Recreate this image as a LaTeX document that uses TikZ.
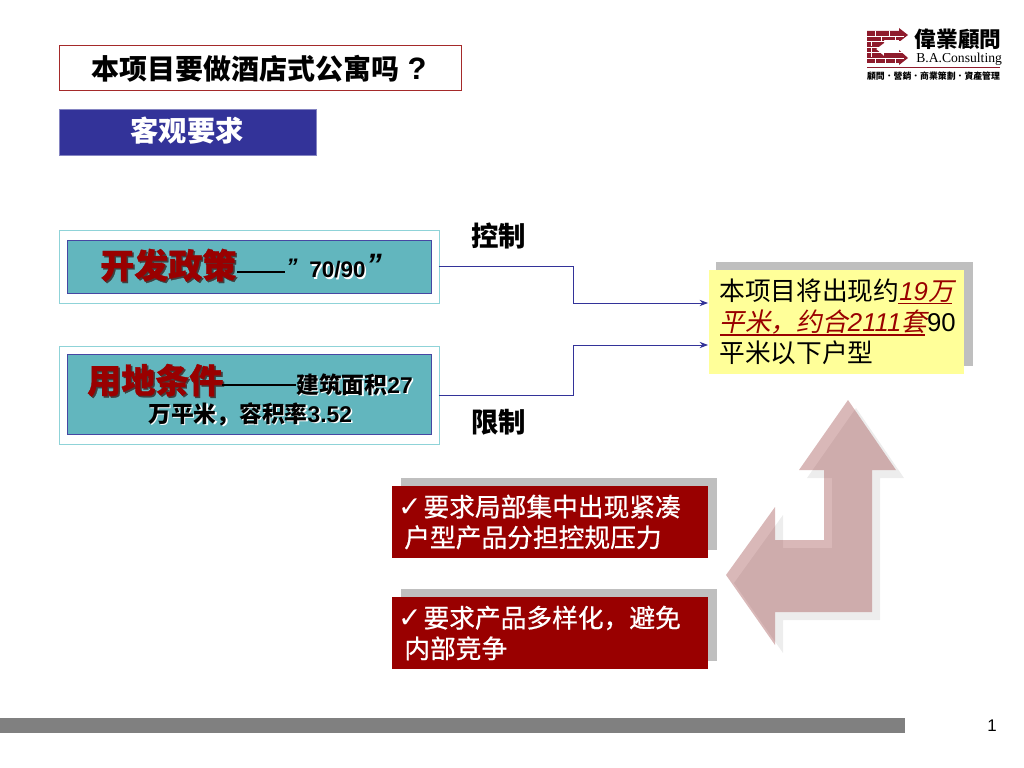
\documentclass[tikz,border=0pt]{standalone}
\usepackage{fontspec}
\usetikzlibrary{arrows.meta}
\setmainfont{Noto Sans CJK SC}
\newfontfamily\arial{Liberation Sans}
\newfontfamily\lserif{Liberation Serif}
\newfontfamily\cjktc{Noto Sans CJK TC}
\newfontfamily\cjkit[FakeSlant=0.2]{Noto Sans CJK SC}
\newfontfamily\cjkmed[FakeBold=0.6]{Noto Sans CJK SC}
\newfontfamily\cjkheavy[BoldFeatures={FakeBold=1}]{Noto Sans CJK SC}
\newfontfamily\dejavu{DejaVu Sans}
\definecolor{titlered}{HTML}{A52A2A}
\definecolor{navy}{HTML}{333399}
\definecolor{tealfill}{HTML}{62B6BE}
\definecolor{tealline}{HTML}{8FD3D8}
\definecolor{darkred}{HTML}{990000}
\definecolor{softyellow}{HTML}{FFFF99}
\definecolor{softgray}{HTML}{BFBFBF}
\definecolor{brick}{HTML}{8E1B2C}
\newcommand{\shadowed}[2]{\leavevmode\rlap{\kern1.1pt\raisebox{-1.1pt}{\color{#1}#2}}#2}
\tikzset{
	panel/.style={anchor=north west, inner sep=0pt, outer sep=0pt},
	outerbox/.style={panel, draw=tealline, line width=0.6pt, fill=white, minimum width=270.2pt},
	innerbox/.style={panel, draw=navy!90, line width=0.5pt, fill=tealfill, minimum width=258.8pt},
	shadowbox/.style={panel, fill=softgray},
	redbox/.style={panel, fill=darkred, minimum width=224.7pt, minimum height=51.2pt},
	redtext/.style={anchor=west, inner sep=0pt, text=white, align=left, font=\fontsize{18.3}{21.8}\selectfont\cjkmed},
	link/.style={-{Stealth[length=6pt,width=4.5pt]}, draw=navy, line width=0.6pt},
	plain/.style={inner sep=0pt}
}
\begin{document}
\begin{tikzpicture}[x=0.025cm, y=-0.025cm]
	\useasboundingbox (0,0) rectangle (1024,768);

	% Titolo
	\node[panel, draw=titlered, line width=0.7pt, minimum width=286.5pt, minimum height=32.7pt] (title) at (59,45) {};
	\node[plain, anchor=west, font=\fontsize{19.9}{24}\selectfont\bfseries] (titletext) at (91,68.5) {本项目要做酒店式公寓吗{\arial\fontsize{22}{24}\selectfont\ ?}};
	\node[panel, fill=navy, draw=navy!60, line width=0.4pt, minimum width=182.7pt, minimum height=32.7pt] (need) at (59,109) {};
	\node[plain, text=white, font=\fontsize{20.1}{24}\selectfont\bfseries] (needtext) at (187,131) {客观要求};

	% Riquadri a sinistra
	\node[outerbox, minimum height=51.9pt] (policy) at (59,230) {};
	\node[innerbox, minimum height=37.7pt] (policyin) at (67,240) {};
	\node[outerbox, minimum height=69.7pt] (land) at (59,346) {};
	\node[innerbox, minimum height=56.9pt] (landin) at (67,354) {};

	% Testi del primo riquadro
	\node[plain, anchor=west, text=darkred, font=\fontsize{24.2}{28}\selectfont\cjkheavy\bfseries] (policyhead) at (100,266) {\shadowed{black!75}{开发政策}};
	\node[plain, anchor=west] (policydash) at (237,272) {\rule{34pt}{1.2pt}};
	\node[plain, anchor=west, font=\arial\fontsize{16}{18}\selectfont\bfseries\itshape] (policyqa) at (286,267) {”};
	\node[plain, anchor=west, font=\arial\fontsize{16}{18}\selectfont\bfseries] (policynum) at (309,270.5) {\shadowed{white}{70/90}};
	\node[plain, anchor=west, font=\arial\fontsize{22}{28}\selectfont\bfseries\itshape] (policyqb) at (366,265) {”};

	% Testi del secondo riquadro
	\node[plain, anchor=west, text=darkred, font=\fontsize{24.2}{28}\selectfont\cjkheavy\bfseries] (landhead) at (87,381) {\shadowed{black!75}{用地条件}};
	\node[plain, anchor=west] (landdash) at (222,385) {\rule{52.5pt}{1.6pt}};
	\node[plain, anchor=west, font=\fontsize{16.2}{20}\selectfont\bfseries] (landa) at (296,385) {\shadowed{white}{建筑面积{\arial 27}}};
	\node[plain, anchor=west, font=\fontsize{16.2}{20}\selectfont\bfseries] (landb) at (148,415) {\shadowed{white}{万平米，容积率{\arial 3.52}}};

	% Etichette dei collegamenti
	\node[plain, font=\fontsize{19.5}{24}\selectfont\bfseries] (control) at (498.5,236) {控制};
	\node[plain, font=\fontsize{19.5}{24}\selectfont\bfseries] (limit) at (498.5,422) {限制};

	% Riquadro giallo
	\node[shadowbox, minimum width=182.7pt, minimum height=74pt] (resultsh) at (716,262) {};
	\node[panel, fill=softyellow, minimum width=181.3pt, minimum height=74pt] (result) at (709,270) {};
	\node[plain, anchor=west, align=left, font=\fontsize{18.3}{22}\selectfont] (resulttext) at (719,322)
		{本项目将出现约{\color{darkred}\cjkit{\arial\itshape 19}万}\\
		{\color{darkred}\cjkit 平米，约合{\arial\itshape 2111}套}{\arial 90}\\
		平米以下户型};
	\draw[darkred, line width=0.8pt] (898,303.5) -- (952,303.5);
	\draw[darkred, line width=0.8pt] (720,335) -- (925,335);

	% Collegamenti
	\coordinate (bendA) at (573,303);
	\coordinate (bendB) at (573,345);
	\coordinate (inA) at (708,303);
	\coordinate (inB) at (708,345);
	\draw[link] (policy.east) -| (bendA) -- (inA);
	\draw[link] (land.east) -| (bendB) -- (inB);

	% Riquadri rossi
	\node[shadowbox, minimum width=224.7pt, minimum height=51.2pt] (reqash) at (401,478) {};
	\node[redbox] (reqa) at (392,486) {};
	\node[redtext] (reqatext) at (404,522) {\hspace*{-4.3pt}{\dejavu\fontsize{20}{20}\selectfont ✓}\kern1.2pt 要求局部集中出现紧凑\\户型产品分担控规压力};
	\node[shadowbox, minimum width=224.7pt, minimum height=51.2pt] (reqbsh) at (401,589) {};
	\node[redbox] (reqb) at (392,597) {};
	\node[redtext] (reqbtext) at (404,633) {\hspace*{-4.3pt}{\dejavu\fontsize{20}{20}\selectfont ✓}\kern1.2pt 要求产品多样化，避免\\内部竞争};

	% Freccia a due punte
	\fill[black!7] (856,408) -- (904,478) -- (880,478) -- (880,620) -- (783,620) -- (783,653) -- (734,583)
		-- (783,515) -- (783,548) -- (832,548) -- (832,478) -- (807,478) -- cycle;
	\fill[fill={rgb,255:red,153;green,63;blue,63}, fill opacity=0.37] (848,400) -- (896,470) -- (872,470) -- (872,612) -- (775,612) -- (775,645) -- (726,575)
		-- (775,507) -- (775,540) -- (824,540) -- (824,470) -- (799,470) -- cycle;

	% Logo
	\fill[brick] (867,31) -- (899,31) -- (899,28) -- (908,35) -- (899,42) -- (899,40) -- (884,40) -- (884,43) -- (876,49)
		-- (884,56) -- (884,53) -- (899,53) -- (899,50) -- (908,58) -- (899,65) -- (899,63) -- (867,63) -- cycle;
	\foreach \y in {36,41,47,52,58}
		\draw[white, line width=0.35pt] (867,\y) -- (904,\y);
	\foreach \x/\y in {875/31,889/31,881/36,895/36,871/41,871/47,871/52,885/58,875/58,895/58}
		\draw[white, line width=0.3pt] (\x,\y) -- ++(0,5);
	\node[plain, font=\cjktc\fontsize{15.4}{18}\selectfont\bfseries] (logoname) at (958,39) {偉業顧問};
	\node[plain, anchor=west, font=\lserif\fontsize{9.7}{12}\selectfont] (logoen) at (916,59) {B.A.Consulting};
	\draw[brick, line width=0.9pt] (867,67.5) -- (1000,67.5);
	\node[plain, font=\cjktc\fontsize{6.3}{8}\selectfont\bfseries] (logotag) at (933.5,76.5) {顧問．營銷．商業策劃．資產管理};

	% Pie di pagina
	\fill[black!50] (0,718) rectangle (905,733);
	\node[plain, font=\arial\fontsize{12}{14}\selectfont] (page) at (992,726) {1};
\end{tikzpicture}
\end{document}
